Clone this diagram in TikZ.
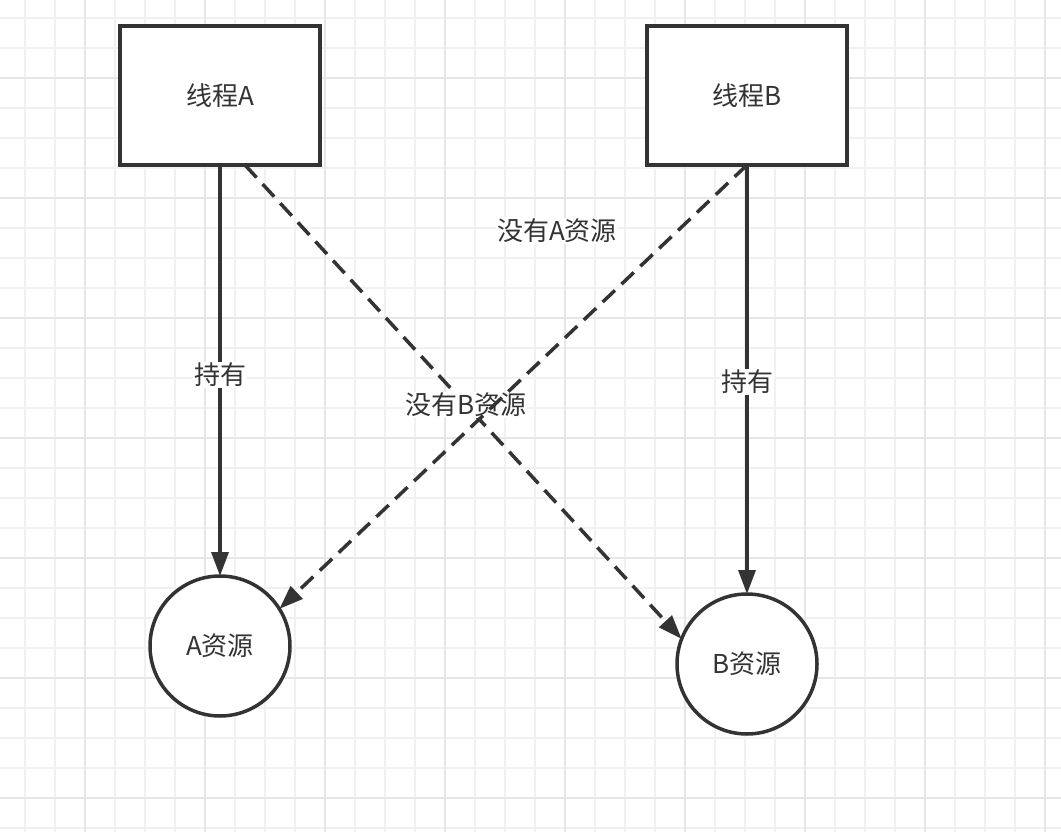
\documentclass[tikz,border=0pt]{standalone}
\usepackage{fontspec}
\newfontfamily\cjk{Noto Sans CJK SC}
\usetikzlibrary{arrows.meta}
\definecolor{ink}{HTML}{333333}
\definecolor{gridminor}{HTML}{F1F1F1}
\definecolor{gridmajor}{HTML}{E6E6E6}
\tikzset{
  thread/.style={draw=ink, line width=3.5pt, fill=white, minimum width=200pt, minimum height=139pt, inner sep=0pt, outer sep=0pt, text=ink, font=\cjk\fontsize{26}{30}\selectfont},
  res/.style={circle, draw=ink, line width=3.5pt, fill=white, minimum size=140pt, inner sep=0pt, outer sep=0pt, text=ink, font=\cjk\fontsize{26}{30}\selectfont},
  lbl/.style={fill=white, text=ink, inner sep=1pt, font=\cjk\fontsize{26}{30}\selectfont},
  hold/.style={draw=ink, line width=3.5pt, -{Triangle[length=24pt,width=17pt]}},
  lack/.style={draw=ink, line width=3.5pt, dash pattern=on 17pt off 9pt, -{Triangle[length=24pt,width=17pt]}}
}
\begin{document}
\begin{tikzpicture}[x=1pt,y=-1pt]
\useasboundingbox (0,0) rectangle (1061,832);
\fill[white] (0,0) rectangle (1061,832);
% grid
\foreach \x in {25,55,...,1045} \draw[gridminor, line width=1.5pt] (\x,0) -- (\x,832);
\foreach \y in {18,48,...,828} \draw[gridminor, line width=1.5pt] (0,\y) -- (1061,\y);
\foreach \x in {85,205,...,1045} \draw[gridmajor, line width=2pt] (\x,0) -- (\x,832);
\foreach \y in {78,198,...,798} \draw[gridmajor, line width=2pt] (0,\y) -- (1061,\y);
% nodes
\node[thread] (tA) at (220,95.5) {线程A};
\node[thread] (tB) at (747,95.5) {线程B};
\node[res] (rA) at (220,646) {A资源};
\node[res] (rB) at (747,664) {B资源};
\coordinate (sA) at ([xshift=25pt]tA.south);
% holding edges
\draw[hold] (tA.south) -- node[lbl, pos=0.511] {持有} (rA.north);
\draw[hold] (tB.south) -- node[lbl, pos=0.506] {持有} (rB.north);
% lacking edges
\draw[lack] (sA) -- node[lbl, pos=0.506] {没有B资源} (rB.159);
\draw[lack] (tB.south) -- (rA.32);
\node[lbl] (lA) at (557,231) {没有A资源};
\end{tikzpicture}
\end{document}
